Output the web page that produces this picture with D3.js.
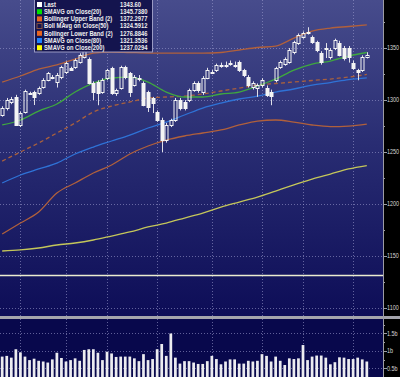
<!DOCTYPE html>
<html>
<head>
<meta charset="utf-8">
<script src="https://cdn.jsdelivr.net/npm/d3@7"></script>
<style>
  html, body { margin: 0; padding: 0; background: #000; }
  svg { display: block; }
</style>
</head>
<body>
<div id="chart"></div>
<script>
// daily candles, oldest first
const opens = [1285.6, 1292.3, 1298, 1302.9, 1276, 1288.5, 1306.5, 1307.7, 1306.7, 1312.5,
  1319.2, 1322, 1317.3, 1322, 1327, 1330.8, 1331.7, 1336.5, 1341.3, 1339.4,
  1316.3, 1317.3, 1307.7, 1321, 1330.8, 1306.7, 1311.5, 1331.7, 1326, 1314.4,
  1320.8, 1316.3, 1307.7, 1301.9, 1288.5, 1280.8, 1261.5, 1276, 1280.8, 1300,
  1298, 1300, 1309.6, 1316.3, 1307.7, 1321.2, 1327, 1328.8, 1333.4, 1333.6,
  1335.5, 1333.8, 1336.5, 1328.8, 1322, 1312.5, 1311.5, 1314.4, 1312, 1308,
  1319.2, 1331.7, 1335, 1336.5, 1346, 1354.8, 1360.6, 1364.6, 1360.6, 1355.8,
  1345.2, 1349.8, 1341.3, 1350, 1354.8, 1350, 1350, 1335.6, 1328.8, 1328.8, 1341.3]
const highs = [1294, 1302, 1303, 1305, 1289, 1310, 1308, 1309, 1313, 1321,
  1327, 1324, 1326, 1333, 1337, 1332, 1340, 1345, 1350, 1341,
  1318, 1319, 1321, 1330, 1332, 1311, 1333, 1333, 1327, 1324,
  1324, 1318, 1309, 1303, 1290, 1283, 1278, 1282, 1302, 1302,
  1300, 1311, 1318, 1318, 1323, 1331, 1329, 1335, 1336, 1337,
  1338, 1337, 1338, 1330, 1324, 1318, 1316, 1321, 1314, 1310,
  1332, 1338, 1341, 1350, 1357, 1364, 1366, 1370, 1362, 1357,
  1347, 1354.8, 1350, 1359, 1357, 1352, 1352, 1338, 1330, 1343, 1346]
const lows = [1284, 1290, 1296, 1275, 1274, 1287, 1305, 1295.2, 1305, 1311,
  1318, 1320, 1312, 1320, 1325, 1328, 1330, 1335, 1340, 1315,
  1300, 1295, 1306, 1319, 1305, 1304, 1310, 1320, 1303, 1313,
  1318, 1294, 1288.5, 1287.5, 1279, 1250, 1259, 1274, 1279, 1290,
  1290, 1298, 1308, 1307, 1305, 1320, 1325, 1327, 1331, 1331,
  1333, 1331, 1327, 1322, 1312, 1310, 1303, 1312, 1303, 1295,
  1317, 1330, 1333, 1335, 1344, 1353, 1359, 1363, 1354, 1346,
  1334, 1340.4, 1339, 1348, 1342, 1338, 1336, 1329, 1319, 1327, 1340]
const closes = [1292.3, 1300, 1301, 1276, 1287.5, 1308.7, 1306.9, 1302.9, 1311.5, 1319.2,
  1326, 1322.5, 1324, 1331.7, 1335.6, 1328.8, 1338.5, 1343.3, 1348, 1316.3,
  1307.7, 1306.7, 1319.2, 1328.8, 1306.7, 1309.6, 1331.7, 1322, 1307.7, 1322,
  1321.2, 1295.2, 1293.3, 1297.1, 1280.8, 1261.5, 1276, 1280.8, 1300, 1292.3,
  1292.3, 1309.6, 1316.3, 1309.6, 1321.2, 1328.8, 1327.3, 1333.6, 1333.8, 1333.9,
  1335.8, 1333.4, 1328.8, 1324, 1314.4, 1316.3, 1314.4, 1319.2, 1305, 1304,
  1330.8, 1336.5, 1339, 1348, 1355.8, 1362.5, 1364.4, 1365.4, 1355.8, 1348,
  1336.5, 1350.2, 1348, 1357.7, 1343.3, 1340.4, 1341.3, 1330.8, 1327, 1341.3, 1343.6]
// volume in billions
const volumes = [0.84, 0.86, 0.81, 1.05, 0.96, 0.84, 0.74, 0.78, 0.72, 0.70,
  0.67, 0.76, 0.95, 0.80, 0.70, 0.74, 0.79, 0.72, 1.03, 1.05,
  1.05, 0.95, 0.74, 0.98, 0.93, 0.83, 0.84, 0.84, 0.84, 0.79,
  0.71, 0.91, 0.74, 0.77, 1.05, 1.20, 0.86, 1.50, 0.81, 0.64,
  0.71, 0.71, 0.67, 0.63, 0.63, 0.71, 0.86, 0.77, 0.62, 0.70,
  0.76, 0.76, 0.64, 0.64, 0.72, 0.70, 0.72, 0.91, 0.86, 0.70,
  0.84, 0.72, 0.60, 0.79, 0.77, 0.79, 1.17, 0.74, 0.84, 0.87,
  0.87, 0.81, 0.62, 0.68, 0.82, 0.81, 0.77, 0.77, 0.81, 0.76, 0.70]

// study lines, read every 4th session
const sampleDays = [0, 4, 8, 12, 16, 20, 24, 28, 32, 36, 40, 44, 48, 52, 56, 60, 64, 68, 72, 76, 80]
const sma20 = [1276.0, 1280.8, 1289.4, 1296.2, 1307.7, 1316.3, 1321.2, 1322.1, 1317.3, 1307.7, 1302.9,
  1302.9, 1305.8, 1307.7, 1313.5, 1320.2, 1328.8, 1334.6, 1337.5, 1342.3, 1345.7]
const bollUpper = [1317.3, 1323.1, 1329.8, 1333.7, 1339.4, 1345.2, 1346.2, 1345.7, 1345.2, 1345.2, 1345.2,
  1345.2, 1345.7, 1348.1, 1350.5, 1351.9, 1359.6, 1366.3, 1369.2, 1370.7, 1372.3]
const bollMid = [1241.3, 1250.0, 1258.7, 1268.3, 1277.9, 1288.5, 1294.2, 1298.1, 1301.9, 1302.9, 1303.8,
  1305.8, 1308.7, 1311.5, 1314.4, 1315.9, 1317.3, 1318.8, 1320.2, 1322.1, 1324.6]
const bollLower = [1171.2, 1181.7, 1192.3, 1210.6, 1220.2, 1229.8, 1237.5, 1248.1, 1255.8, 1261.5, 1265.4,
  1268.3, 1271.2, 1276.0, 1279.8, 1280.8, 1278.8, 1276.0, 1274.5, 1275.0, 1276.9]
const sma80 = [1220.2, 1227.9, 1233.7, 1239.4, 1248.1, 1254.8, 1260.6, 1266.3, 1273.1, 1278.8, 1285.6,
  1292.3, 1297.1, 1301.0, 1303.8, 1307.7, 1310.6, 1314.4, 1316.8, 1319.7, 1321.4]
const sma200 = [1154.8, 1155.8, 1157.7, 1160.6, 1162.5, 1165.4, 1169.2, 1173.1, 1177.9, 1181.7, 1186.5,
  1191.3, 1197.1, 1201.9, 1206.7, 1212.5, 1218.3, 1224.0, 1228.8, 1233.7, 1237.0]
const refLevel = 1131.3

const legendNames = ['Last', 'SMAVG on Close(20)', 'Bollinger Upper Band (2)', 'Boll MAvg on Close(50)',
  'Bollinger Lower Band (2)', 'SMAVG on Close(80)', 'SMAVG on Close(200)']
const legendValues = ['1343.60', '1345.7380', '1372.2977', '1324.5912', '1276.8846', '1321.3536', '1237.0294']

const priceTicks = [1100, 1150, 1200, 1250, 1300, 1350]
const priceMinor = [1125, 1175, 1225, 1275, 1325, 1375]
const volTicks = [0.5, 1, 1.5]
const volMinor = [0.75, 1.25, 1.75]
const gridDays = [4, 14, 23, 34, 46, 57, 66, 77]

const W = 400
const H = 377
const PLOT_R = 383
const PRICE_B = 316
const VOL_T = 319

const svg = d3.select('#chart').append('svg')
                               .attr('width', W)
                               .attr('height', H)

const x = d3.scaleBand().domain(d3.range(opens.length)).range([-1, 370]).padding(0.4)
const xc = i => Math.round(x(i) + x.bandwidth() / 2) + 0.5
const y = d3.scaleLinear().domain([1092.3, 1396.2]).range([PRICE_B, 0])
const yv = d3.scaleLinear().domain([0, 1.914]).range([386, VOL_T])

const defs = svg.append('defs')
const grad = defs.append('linearGradient')
                   .attr('id', 'bg')
                   .attr('x1', 0).attr('y1', 0).attr('x2', 0).attr('y2', 1)
grad.append('stop').attr('offset', '0%').attr('stop-color', '#474c8c')
grad.append('stop').attr('offset', '45%').attr('stop-color', '#292d73')
grad.append('stop').attr('offset', '100%').attr('stop-color', '#0d0d57')
defs.append('clipPath').attr('id', 'priceClip')
      .append('rect').attr('x', 0).attr('y', 0).attr('width', PLOT_R).attr('height', PRICE_B)

// backgrounds
svg.append('rect').attr('width', W).attr('height', H).attr('fill', '#000')
svg.append('rect').attr('width', PLOT_R).attr('height', PRICE_B).attr('fill', 'url(#bg)')
svg.append('rect').attr('y', VOL_T).attr('width', PLOT_R).attr('height', H - VOL_T).attr('fill', '#08084c')
svg.append('rect').attr('y', PRICE_B).attr('width', W).attr('height', VOL_T - PRICE_B).attr('fill', '#a4a4ac')

// grid
const grid = svg.append('g')
                  .attr('stroke', '#9a9acc')
                  .attr('stroke-opacity', 0.6)
                  .attr('stroke-dasharray', '1,2')
grid.selectAll('line.h')
    .data(priceTicks)
    .enter().append('line')
      .attr('x1', 0).attr('x2', PLOT_R)
      .attr('y1', d => Math.round(y(d)) + 0.5)
      .attr('y2', d => Math.round(y(d)) + 0.5)
grid.selectAll('line.hv')
    .data(volTicks)
    .enter().append('line')
      .attr('x1', 0).attr('x2', PLOT_R)
      .attr('y1', d => Math.round(yv(d)) + 0.5)
      .attr('y2', d => Math.round(yv(d)) + 0.5)
grid.selectAll('line.v')
    .data(gridDays)
    .enter().append('line')
      .attr('x1', d => xc(d)).attr('x2', d => xc(d))
      .attr('y1', 0).attr('y2', PRICE_B)
grid.selectAll('line.vv')
    .data(gridDays)
    .enter().append('line')
      .attr('x1', d => xc(d)).attr('x2', d => xc(d))
      .attr('y1', VOL_T).attr('y2', H)

const price = svg.append('g').attr('clip-path', 'url(#priceClip)')

price.append('line')
       .attr('x1', 0).attr('x2', PLOT_R)
       .attr('y1', y(refLevel)).attr('y2', y(refLevel))
       .attr('stroke', '#ececd0')
       .attr('stroke-width', 1.5)

const studies = [
  { values: sma200, color: '#c4c65a', dash: null },
  { values: bollLower, color: '#b0603c', dash: null },
  { values: bollUpper, color: '#b0603c', dash: null },
  { values: sma80, color: '#2f72d6', dash: null },
  { values: bollMid, color: '#a8603e', dash: '4,3' },
  { values: sma20, color: '#3fa83f', dash: null }
]
const line = d3.line()
               .x(d => x(d[0]) + x.bandwidth() / 2)
               .y(d => y(d[1]))
               .curve(d3.curveMonotoneX)
price.selectAll('path.study')
     .data(studies)
     .enter().append('path')
       .attr('class', 'study')
       .attr('d', s => line(sampleDays.map((day, k) => [day, s.values[k]])))
       .attr('fill', 'none')
       .attr('stroke', s => s.color)
       .attr('stroke-width', 1.3)
       .attr('stroke-dasharray', s => s.dash)

// candles
const candles = price.selectAll('g.candle')
                     .data(d3.range(opens.length))
                     .enter().append('g')
                       .attr('class', 'candle')
const bodyTop = i => Math.round(y(Math.max(opens[i], closes[i])))
const bodyBot = i => Math.max(Math.round(y(Math.min(opens[i], closes[i]))), bodyTop(i) + 1)
candles.append('line')
         .attr('x1', xc).attr('x2', xc)
         .attr('y1', i => y(highs[i])).attr('y2', bodyTop)
         .attr('stroke', '#e0e0e8')
candles.append('line')
         .attr('x1', xc).attr('x2', xc)
         .attr('y1', bodyBot).attr('y2', i => y(lows[i]))
         .attr('stroke', '#e0e0e8')
candles.append('rect')
         .attr('x', i => xc(i) - 1.5)
         .attr('y', i => bodyTop(i) + 0.5)
         .attr('width', 3)
         .attr('height', i => bodyBot(i) - bodyTop(i))
         .attr('fill', i => closes[i] >= opens[i] ? 'none' : '#f4f4f4')
         .attr('stroke', '#f4f4f4')
         .attr('stroke-width', 1)

// volume
svg.append('g').selectAll('rect')
   .data(volumes)
   .enter().append('rect')
     .attr('x', (d, i) => x(i))
     .attr('y', d => yv(d))
     .attr('width', x.bandwidth())
     .attr('height', d => H - yv(d))
     .attr('fill', '#ececf0')

// right axis
const axis = svg.append('g').attr('stroke', '#9c9ca4')
axis.append('line')
      .attr('x1', PLOT_R + 0.5).attr('x2', PLOT_R + 0.5)
      .attr('y1', 0).attr('y2', H)
const tickMarks = (vals, scale, len) => axis.selectAll(null)
  .data(vals)
  .enter().append('line')
    .attr('x1', PLOT_R).attr('x2', PLOT_R + len)
    .attr('y1', d => Math.round(scale(d)) + 0.5)
    .attr('y2', d => Math.round(scale(d)) + 0.5)
tickMarks(priceTicks, y, 4)
tickMarks(priceMinor, y, 2)
tickMarks(volTicks, yv, 4)
tickMarks(volMinor, yv, 2)

// narrow axis labels, squeezed so they fit in the 16px strip
const axisLabel = (vals, scale, fmt) => svg.append('g').selectAll(null)
  .data(vals)
  .enter().append('text')
    .attr('transform', d => `translate(${PLOT_R + 4},${scale(d)}) scale(0.78,1)`)
    .attr('dy', '0.35em')
    .attr('font-family', '"Liberation Sans", sans-serif')
    .attr('font-size', 7)
    .attr('fill', '#d8d8d8')
    .text(fmt)
axisLabel(priceTicks, y, d => d)
axisLabel(volTicks, yv, d => d + 'b')

// legend
const swatches = ['#ffffff', '#00e000', '#e8641e', null, '#e8641e', '#1e82ff', '#ffff00']
const legend = svg.append('g').attr('transform', 'translate(34.5,-0.5)')
legend.append('rect')
        .attr('width', 118)
        .attr('height', 52.5)
        .attr('fill', '#14144e')
        .attr('stroke', '#9a9ac4')
const row = legend.selectAll('g.row')
                  .data(legendNames)
                  .enter().append('g')
                    .attr('class', 'row')
                    .attr('transform', (d, i) => `translate(0,${5 + i * 7.2})`)
row.append('rect')
     .attr('x', 2.5).attr('y', -2.5)
     .attr('width', 5).attr('height', 5)
     .attr('fill', (d, i) => swatches[i] || 'none')
     .attr('stroke', (d, i) => swatches[i] ? 'none' : '#a06040')
     .attr('stroke-width', 0.8)
row.append('text')
     .attr('transform', 'translate(9.5,0) scale(0.88,1)')
     .attr('dy', '0.35em')
     .attr('font-family', '"Liberation Sans", sans-serif')
     .attr('font-weight', 'bold')
     .attr('font-size', 6.6)
     .attr('fill', '#f0f0f0')
     .text(d => d)
row.append('text')
     .attr('transform', 'translate(85.5,0) scale(0.88,1)')
     .attr('dy', '0.35em')
     .attr('font-family', '"Liberation Sans", sans-serif')
     .attr('font-weight', 'bold')
     .attr('font-size', 6.6)
     .attr('fill', '#f0f0f0')
     .text((d, i) => legendValues[i])
</script>
</body>
</html>
